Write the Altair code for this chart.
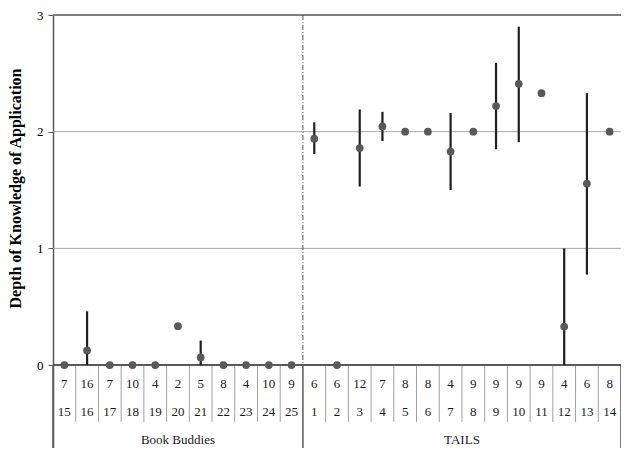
import altair as alt
import pandas as pd

groups = ["Book Buddies"] * 11 + ["TAILS"] * 14
cases = [15, 16, 17, 18, 19, 20, 21, 22, 23, 24, 25,
         1, 2, 3, 4, 5, 6, 7, 8, 9, 10, 11, 12, 13, 14]
n_obs = [7, 16, 7, 10, 4, 2, 5, 8, 4, 10, 9,
         6, 6, 12, 7, 8, 8, 4, 9, 9, 9, 9, 4, 6, 8]
means = [0, 0.125, 0, 0, 0, 0.333, 0.065, 0, 0, 0, 0,
         1.94, 0, 1.86, 2.045, 2, 2, 1.83, 2, 2.22, 2.41, 2.33, 0.33, 1.555, 2]
lows = [None, 0, None, None, None, None, 0, None, None, None, None,
        1.81, None, 1.53, 1.92, None, None, 1.50, None, 1.85, 1.91, None, 0, 0.775, None]
highs = [None, 0.46, None, None, None, None, 0.21, None, None, None, None,
         2.08, None, 2.19, 2.17, None, None, 2.16, None, 2.59, 2.90, None, 1.0, 2.33, None]
y_ticks = [0, 1, 2, 3]

df = pd.DataFrame({
    "group": groups, "case": cases, "n": n_obs,
    "mean": means,
})
df["idx"] = list(range(len(df)))
df["xc"] = df["idx"] + 0.5
err_rows = [(i + 0.5, lo, hi) for i, (lo, hi) in enumerate(zip(lows, highs)) if lo is not None]
err = pd.DataFrame(err_rows, columns=["xc", "lo", "hi"])

sep = pd.DataFrame({"x": [i for i in range(1, len(df)) if groups[i] == groups[i - 1]]})
borders_x = [0]
for i in range(1, len(df)):
    if groups[i] != groups[i - 1]:
        borders_x.append(i)
borders_x.append(len(df))
borders = pd.DataFrame({"x": borders_x})
divider = pd.DataFrame({"x": borders_x[1:-1]})
glabels = df.groupby("group", as_index=False)["xc"].mean()

FONT = "Liberation Serif"
W, H = 568, 433
ZERO_PX = 350  # pixel row of value 0 inside the plot
xscale = alt.Scale(domain=[0, len(df)], nice=False, zero=False)
yscale = alt.Scale(domain=[-0.711, 3], nice=False, zero=False)

yaxis = alt.Axis(
    values=y_ticks,
    title="Depth of Knowledge of Application",
    titleFont=FONT, titleFontSize=16, titleFontWeight="bold", titleColor="#000000",
    titleX=-33, titleY=173, titleAngle=270, titleAlign="center", titleBaseline="alphabetic",
    labelFont=FONT, labelFontSize=13, labelColor="#000000", labelPadding=5,
    tickSize=5, tickColor="#595959", tickWidth=1,
    domainColor="#595959", domainWidth=1.5,
    grid=False,
)


def X(field):
    return alt.X(field, scale=xscale, axis=None)


def Y(field):
    return alt.Y(field, scale=yscale, axis=yaxis)


base = alt.Chart(df)

grid_mid = alt.Chart(pd.DataFrame({"y": y_ticks[1:-1]})).mark_rule(color="#a6a6a6", strokeWidth=1).encode(
    y=Y("y:Q")
)
grid_top = alt.Chart(pd.DataFrame({"y": y_ticks[-1:]})).mark_rule(color="#7f7f7f", strokeWidth=2).encode(
    y=Y("y:Q")
)

points = base.mark_point(filled=True, size=60, color="#595959", opacity=1).encode(
    x=X("xc:Q"), y=Y("mean:Q")
)

errs = alt.Chart(err).mark_rule(color="#1f1f1f", strokeWidth=2.2).encode(
    x=X("xc:Q"), y=Y("lo:Q"), y2="hi:Q"
)

zero_line = alt.Chart(pd.DataFrame({"y": y_ticks[:1]})).mark_rule(color="#595959", strokeWidth=2).encode(
    y=Y("y:Q")
)

seps = alt.Chart(sep).mark_rule(color="#a0a0a0", strokeWidth=1).encode(
    x=X("x:Q"), y=alt.value(ZERO_PX), y2=alt.value(ZERO_PX + 57)
)

border_rules = alt.Chart(borders).mark_rule(color="#595959", strokeWidth=1.5).encode(
    x=X("x:Q"), y=alt.value(ZERO_PX), y2=alt.value(H)
)

div_rule = alt.Chart(divider).mark_rule(color="#595959", strokeWidth=1, strokeDash=[5, 2, 1, 2]).encode(
    x=X("x:Q"), y=alt.value(0), y2=alt.value(ZERO_PX)
)

txt_n = base.mark_text(font=FONT, fontSize=13, color="#1a1a1a", baseline="middle").encode(
    x=X("xc:Q"), y=alt.value(ZERO_PX + 19), text="n:Q"
)
txt_case = base.mark_text(font=FONT, fontSize=13, color="#1a1a1a", baseline="middle").encode(
    x=X("xc:Q"), y=alt.value(ZERO_PX + 47), text="case:Q"
)
txt_group = alt.Chart(glabels).mark_text(font=FONT, fontSize=13, color="#1a1a1a", baseline="middle").encode(
    x=X("xc:Q"), y=alt.value(ZERO_PX + 75), text="group:N"
)

chart = alt.layer(
    grid_mid, grid_top, seps, border_rules, div_rule, zero_line, errs, points, txt_n, txt_case, txt_group
).properties(
    width=W, height=H,
    background="#ffffff",
    autosize=alt.AutoSizeParams(type="none"),
    padding={"left": 45, "top": 7, "right": 0, "bottom": 0},
).configure_view(strokeWidth=0)

chart.save("out.html", embed_options={"renderer": "svg", "actions": False})
